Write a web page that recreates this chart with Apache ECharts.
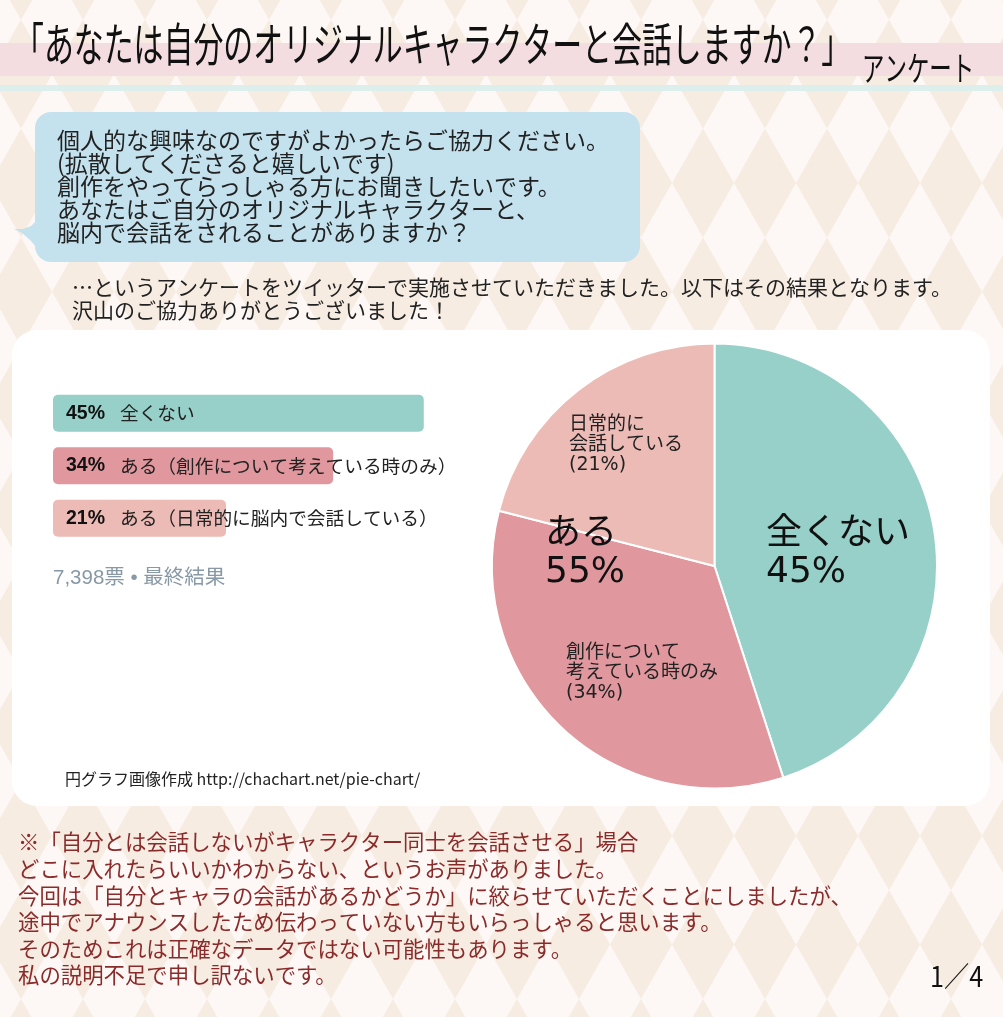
<!DOCTYPE html>
<html>
<head>
<meta charset="utf-8">
<script src="https://cdn.jsdelivr.net/npm/echarts@6/dist/echarts.min.js"></script>
<style>
  html, body { margin: 0; padding: 0; background: #f6ece2; }
  #chart { width: 1003px; height: 1017px; }
</style>
</head>
<body>
<div id="chart"></div>
<script>
// poll results
const answers = ['全くない', 'ある（創作について考えている時のみ）', 'ある（日常的に脳内で会話している）'];
const pieNames = ['全くない', '創作について\n考えている時のみ', '日常的に\n会話している'];
const shares = [45, 34, 21];
const sliceColors = ['#96d0c8', '#e0989e', '#ecbbb6'];
const totalVotes = '7,398';
const groupName = 'ある';

const jp = '"Noto Sans CJK JP", sans-serif';
const chart = echarts.init(document.getElementById('chart'));

// harlequin background
const pattern = [];
const W = 62, H = 108.8;
for (let cx = 52 - W; cx < 1003 + W; cx += W) {
  for (let cy = 19.8 - H; cy < 1017 + H; cy += H) {
    pattern.push({
      type: 'polygon', z: 0, silent: true,
      shape: { points: [[cx, cy - H / 2], [cx + W / 2, cy], [cx, cy + H / 2], [cx - W / 2, cy]] },
      style: { fill: '#fdf8f5' }
    });
  }
}

function txt(text, x, y, size, opts) {
  opts = opts || {};
  return {
    type: 'text', x: x, y: y, z: 50, silent: true,
    scaleX: opts.scaleX || 1,
    style: {
      text: text, fontSize: size, fontFamily: opts.font || jp,
      fill: opts.color || '#222', lineHeight: opts.lh || size,
      textVerticalAlign: 'top', fontWeight: opts.weight || 'normal'
    }
  };
}

const yesShare = shares[1] + shares[2];
const pieLabelSpots = [[766, 516], [566, 643], [569, 415]];

const graphics = pattern.concat([
  { type: 'rect', z: 1, silent: true, shape: { x: 0, y: 43, width: 1003, height: 33 }, style: { fill: '#f3dde0' } },
  { type: 'rect', z: 1, silent: true, shape: { x: 0, y: 85, width: 1003, height: 6 }, style: { fill: '#dcefec' } },
  txt('「あなたは自分のオリジナルキャラクターと会話しますか？」', 14, 21, 46, { scaleX: 0.65, color: '#111' }),
  txt('アンケート', 862, 51, 34, { scaleX: 0.66, color: '#111' }),
  // speech bubble
  { type: 'polygon', z: 1, silent: true, shape: { points: [[37, 220], [31, 226], [23, 229], [14, 229], [22, 233], [30, 240], [37, 248]] }, style: { fill: '#c4e2ee' } },
  { type: 'rect', z: 1, silent: true, shape: { x: 35, y: 112, width: 605, height: 150, r: 16 }, style: { fill: '#c4e2ee' } },
  txt('個人的な興味なのですがよかったらご協力ください。\n(拡散してくださると嬉しいです)\n創作をやってらっしゃる方にお聞きしたいです。\nあなたはご自分のオリジナルキャラクターと、\n脳内で会話をされることがありますか？', 57, 129, 23, { lh: 23, color: '#222' }),
  txt('…というアンケートをツイッターで実施させていただきました。以下はその結果となります。\n沢山のご協力ありがとうございました！', 72, 276, 21, { lh: 23, color: '#222' }),
  // white panel
  { type: 'rect', z: 1, silent: true, shape: { x: 12, y: 330, width: 978, height: 476, r: 25 }, style: { fill: '#ffffff' } },
  txt(totalVotes + '票 • 最終結果', 53, 568, 20.5, { color: '#8899a6', font: '"Liberation Sans", "Noto Sans CJK JP", sans-serif' }),
  txt(groupName + '\n' + yesShare + '%', 545, 516, 36, { lh: 38, color: '#111', font: '"DejaVu Sans", "Noto Sans CJK JP", sans-serif' }),
  txt('円グラフ画像作成 http://chachart.net/pie-chart/', 65, 771, 16, { color: '#222' }),
  txt('※「自分とは会話しないがキャラクター同士を会話させる」場合\nどこに入れたらいいかわからない、というお声がありました。\n今回は「自分とキャラの会話があるかどうか」に絞らせていただくことにしましたが、\n途中でアナウンスしたため伝わっていない方もいらっしゃると思います。\nそのためこれは正確なデータではない可能性もあります。\n私の説明不足で申し訳ないです。', 18, 829, 21.4, { lh: 26.6, color: '#8a2b2b' }),
  txt('1／4', 930, 962, 28, { scaleX: 0.9, color: '#111' })
]);

const option = {
  animation: false,
  graphic: { elements: graphics },
  grid: { left: 53, top: 387, width: 824, height: 157.5 },
  xAxis: { type: 'value', min: 0, max: 100, show: false },
  yAxis: { type: 'category', data: answers, inverse: true, show: false },
  series: [
    {
      type: 'bar', z: 5, barWidth: 37,
      data: shares.map((v, i) => ({ value: v, itemStyle: { color: sliceColors[i] } })),
      itemStyle: { borderRadius: 5 },
      label: {
        show: true, position: 'insideLeft', distance: 13,
        formatter: p => '{p|' + p.value + '%}{t|' + answers[p.dataIndex] + '}',
        rich: {
          p: { fontFamily: '"Liberation Sans", sans-serif', fontWeight: 'bold', fontSize: 19.5, color: '#111', width: 54 },
          t: { fontFamily: jp, fontSize: 18.7, color: '#222' }
        }
      }
    },
    {
      type: 'pie', z: 5, center: [714.5, 566], radius: 222.5,
      startAngle: 90, clockwise: true, avoidLabelOverlap: false,
      itemStyle: { borderColor: '#fff', borderWidth: 2 },
      data: shares.map((v, i) => ({
        value: v, name: pieNames[i], itemStyle: { color: sliceColors[i] },
        label: i === 0
          ? { fontSize: 36, lineHeight: 38, color: '#111' }
          : { fontSize: 19, lineHeight: 20, color: '#222' }
      })),
      label: {
        show: true, position: 'inside', align: 'left',
        fontFamily: '"DejaVu Sans", "Noto Sans CJK JP", sans-serif',
        formatter: p => p.dataIndex === 0 ? p.name + '\n' + p.value + '%' : p.name + '\n(' + p.value + '%)'
      },
      labelLine: { show: false },
      labelLayout: p => ({ x: pieLabelSpots[p.dataIndex][0], y: pieLabelSpots[p.dataIndex][1], align: 'left', verticalAlign: 'top' }),
      emphasis: { disabled: true }
    }
  ]
};

chart.setOption(option);
</script>
</body>
</html>
